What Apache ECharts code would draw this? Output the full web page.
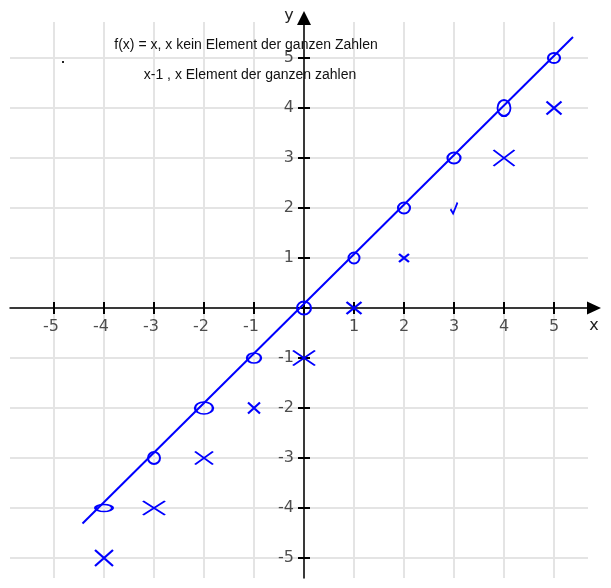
<!DOCTYPE html>
<html>
<head>
<meta charset="utf-8">
<script src="https://cdn.jsdelivr.net/npm/echarts@6/dist/echarts.min.js"></script>
<style>html,body{margin:0;padding:0;background:#fff;}#c{width:611px;height:588px;}</style>
</head>
<body>
<div id="c"></div>
<script>
// ---- data ----
const xTicks = [-5, -4, -3, -2, -1, 0, 1, 2, 3, 4, 5];
const yTicks = [-5, -4, -3, -2, -1, 0, 1, 2, 3, 4, 5];
const xTickLabels = [-5, -4, -3, -2, -1, 1, 2, 3, 4, 5];
const yTickLabels = [-5, -4, -3, -2, -1, 1, 2, 3, 4, 5];
const lineX = [-4.43, 5.38];
const lineY = [-4.31, 5.42];
const circleX = [-4, -3, -2, -1, 0, 1, 2, 3, 4, 5];
const circleY = [-4, -3, -2, -1, 0, 1, 2, 3, 4, 5];
const crossX = [-4, -3, -2, -1, 0, 1, 2, 3, 4, 5];
const crossY = [-5, -4, -3, -2, -1, 0, 1, 2, 3, 4];
const titleLines = ['f(x) = x, x kein Element der ganzen Zahlen', 'x-1 , x Element der ganzen zahlen'];

// ---- styles (marker shapes, hand-drawn look) ----
const circleShapes = [[17, 7], [12, 12], [18, 12], [14, 10], [14, 13], [11, 11], [12, 11], [13, 11], [13, 16], [12, 10]];
const CROSS = 'path://M0,0L10,10M10,0L0,10';
const CHECK = 'path://M0,6L3,10L8,0';
const crossShapes = [
  [CROSS, [18, 16]], [CROSS, [22, 14]], [CROSS, [18, 13]], [CROSS, [12, 11]], [CROSS, [22, 15]],
  [CROSS, [15, 12]], [CROSS, [10, 8]], [CHECK, [7, 11]], [CROSS, [21, 16]], [CROSS, [15, 13]]
];
const BLUE = '#0000ff';

const chart = echarts.init(document.getElementById('c'));
const labelFont = {fontFamily: 'DejaVu Sans', fontSize: 16, color: '#222'};
const titleFont = '14px "Liberation Sans", Arial';

chart.setOption({
  animation: false,
  backgroundColor: '#fff',
  grid: {left: 10, top: 22, width: 578, height: 556, containLabel: false, outerBoundsMode: 'none'},
  xAxis: {
    type: 'value', min: -5.88, max: 5.68,
    axisLine: {onZero: true, lineStyle: {color: '#000', width: 1.5}, symbol: ['none', 'triangle'], symbolSize: [13, 14], symbolOffset: [0, 6]},
    axisTick: {show: false, customValues: xTicks},
    splitLine: {show: true, lineStyle: {color: '#e4e4e4', width: 2}},
    axisLabel: {show: false, customValues: xTicks}
  },
  yAxis: {
    type: 'value', min: -5.4, max: 5.72,
    axisLine: {onZero: true, lineStyle: {color: '#000', width: 1.5}, symbol: ['none', 'triangle'], symbolSize: [14, 14], symbolOffset: [0, 4]},
    axisTick: {show: false, customValues: yTicks},
    splitLine: {show: true, lineStyle: {color: '#e4e4e4', width: 2}},
    axisLabel: {show: false, customValues: yTicks}
  },
  graphic: [
    {type: 'text', z: 100, style: {text: titleLines[0], x: 246, y: 45, align: 'center', verticalAlign: 'middle', font: titleFont, fill: '#111'}},
    {type: 'text', z: 100, style: {text: titleLines[1], x: 250, y: 75, align: 'center', verticalAlign: 'middle', font: titleFont, fill: '#111'}},
    {type: 'text', z: 100, style: {text: 'x', x: 594, y: 326, align: 'center', verticalAlign: 'middle', font: '16px "DejaVu Sans"', fill: '#222'}},
    {type: 'text', z: 100, style: {text: 'y', x: 289, y: 16, align: 'center', verticalAlign: 'middle', font: '16px "DejaVu Sans"', fill: '#222'}},
    {type: 'rect', z: 100, shape: {x: 62, y: 61, width: 2, height: 2}, style: {fill: '#222'}}
  ],
  series: [
    {
      type: 'scatter', silent: true, symbol: 'rect', symbolSize: [2, 12],
      itemStyle: {color: '#000', opacity: 1}, z: 3,
      data: xTicks.map(v => [v, 0])
    },
    {
      type: 'scatter', silent: true, symbol: 'rect', symbolSize: [12, 2],
      itemStyle: {color: '#000', opacity: 1}, z: 3,
      data: yTicks.map(v => [0, v])
    },
    {
      type: 'scatter', silent: true, symbolSize: 0, z: 6,
      label: {show: true, position: 'inside', ...labelFont, align: 'center', verticalAlign: 'middle'},
      data: xTickLabels.map(v => ({
        value: [v, 0],
        label: {formatter: String(v), offset: [v < 0 ? -3 : 0, 19]}
      }))
    },
    {
      type: 'scatter', silent: true, symbolSize: 0, z: 6,
      label: {show: true, position: 'inside', ...labelFont, align: 'right', verticalAlign: 'middle', offset: [-10, 0]},
      data: yTickLabels.map(v => ({
        value: [0, v],
        label: {formatter: String(v)}
      }))
    },
    {
      type: 'line', silent: true, showSymbol: false, z: 4,
      lineStyle: {color: BLUE, width: 2},
      data: lineX.map((x, i) => [x, lineY[i]])
    },
    {
      type: 'scatter', silent: true, symbol: 'circle', z: 5,
      itemStyle: {color: 'rgba(0,0,0,0)', borderColor: BLUE, borderWidth: 2, opacity: 1},
      data: circleX.map((x, i) => ({value: [x, circleY[i]], symbolSize: circleShapes[i]}))
    },
    {
      type: 'scatter', silent: true, z: 5,
      itemStyle: {color: 'none', borderColor: BLUE, borderWidth: 2, opacity: 1},
      data: crossX.map((x, i) => ({value: [x, crossY[i]], symbol: crossShapes[i][0], symbolSize: crossShapes[i][1], symbolKeepAspect: false}))
    }
  ]
});
</script>
</body>
</html>
